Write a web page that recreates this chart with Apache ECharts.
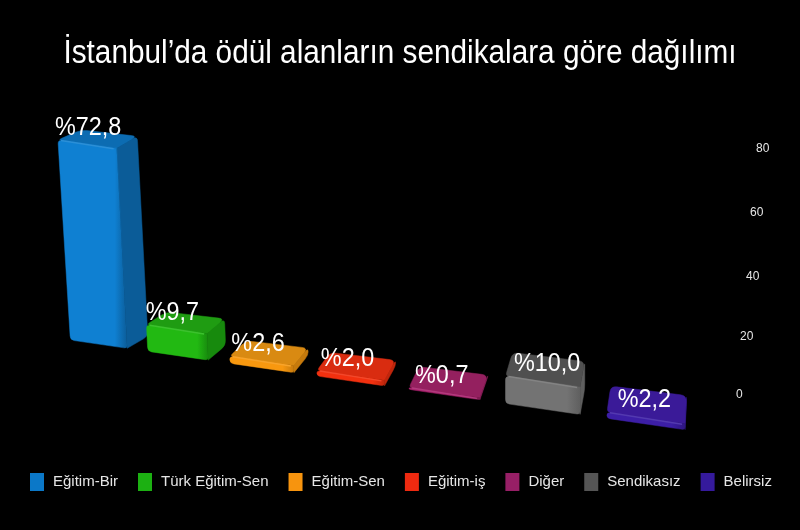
<!DOCTYPE html>
<html>
<head>
<meta charset="utf-8">
<title>İstanbul’da ödül alanların sendikalara göre dağılımı</title>
<script src="https://cdn.jsdelivr.net/npm/echarts@6/dist/echarts.min.js"></script>
<style>
html, body { margin: 0; padding: 0; background: #000; }
#chart { width: 800px; height: 530px; }
</style>
</head>
<body>
<div id="chart"></div>
<script>
// veriler
const titleText = 'İstanbul’da ödül alanların sendikalara göre dağılımı';
const categories = ['Eğitim-Bir', 'Türk Eğitim-Sen', 'Eğitim-Sen', 'Eğitim-iş', 'Diğer', 'Sendikasız', 'Belirsiz'];
const shares = [72.8, 9.7, 2.6, 2.0, 0.7, 10.0, 2.2];
const tickValues = [0, 20, 40, 60, 80];

// renkler: lejant, ön yüz, üst yüz, yan yüz
const legendColors = ['#0b78c8', '#1cb012', '#f7940e', '#ee2a10', '#971f66', '#555555', '#351a9c'];
const frontColors = ['#0f80d2', '#22b912', '#f8980f', '#f2300f', '#a8206c', '#737373', '#3c1ea6'];
const topColors = ['#0c6cb2', '#1f9c12', '#d98a12', '#d92c10', '#94205f', '#505050', '#3a1a98'];
const sideColors = ['#0b5c98', '#178a0d', '#c67a0c', '#c0260c', '#7c1a50', '#5f5f5f', '#2e1580'];

const fontName = '"Liberation Sans", Arial, sans-serif';

// köşeleri yuvarlatılmış çokgen yolu (her köşenin kendi yarıçapı var)
function roundedPath(pts, radii) {
	let d = '';
	pts.forEach(function (p, k) {
		const prev = pts[(k + pts.length - 1) % pts.length];
		const next = pts[(k + 1) % pts.length];
		const l1 = Math.hypot(prev[0] - p[0], prev[1] - p[1]);
		const l2 = Math.hypot(next[0] - p[0], next[1] - p[1]);
		const r1 = Math.min(radii[k], l1 / 2.2) / l1;
		const r2 = Math.min(radii[k], l2 / 2.2) / l2;
		const a = [p[0] + (prev[0] - p[0]) * r1, p[1] + (prev[1] - p[1]) * r1];
		const b = [p[0] + (next[0] - p[0]) * r2, p[1] + (next[1] - p[1]) * r2];
		d += (k === 0 ? 'M' : 'L') + a[0] + ' ' + a[1] + 'Q' + p[0] + ' ' + p[1] + ' ' + b[0] + ' ' + b[1];
	});
	return d + 'Z';
}

// perspektifli çubuk çizimi
function renderBar(params, api) {
	const i = api.value(0);
	const v = api.value(1);
	const origin = api.coord([0, 0]);
	const band = api.size([1, 0])[0];
	const h = api.size([0, v])[1];
	const frontX = function (t) {
		return origin[0] - 10 + band * 0.745 * t + 2.4 * t * t;
	};
	const point = function (t, d, up) {
		const x = frontX(t);
		const lean = Math.max(0, 0.062 - 0.0125 * t);
		return [
			x + d * (23 - 3.2 * t) - up * lean,
			origin[1] - 54 + 0.146 * (x - frontX(0)) + d * (-10 - 2.7 * t) - up
		];
	};
	const w = i + 0.74;
	const fl = point(i, 0, 0), fr = point(w, 0, 0), br = point(w, 1, 0);
	const tfl = point(i, 0, h), tfr = point(w, 0, h), tbr = point(w, 1, h), tbl = point(i, 1, h);

	const face = function (pts, radii, fill) {
		return {
			type: 'path',
			shape: {
				pathData: roundedPath(pts, radii),
				layout: 'none'
			},
			style: { fill: fill, stroke: fill, lineWidth: 0.5 }
		};
	};
	const frontFill = new echarts.graphic.LinearGradient(0, 0, 1, 0, [
		{ offset: 0, color: frontColors[i] },
		{ offset: 0.82, color: frontColors[i] },
		{ offset: 1, color: sideColors[i] }
	]);
	const edge = echarts.color.lift(frontColors[i], 0.12);
	return {
		type: 'group',
		children: [
			face([fr, br, tbr, tfr], [0, 5, 5, 0], sideColors[i]),
			face([tfl, tfr, tbr, tbl], [4, 0, 6, 6], topColors[i]),
			face([fl, fr, tfr, tfl], [4, 3, 0, 4], frontFill),
			{
				type: 'polyline',
				shape: { points: [[tfl[0] + 3, tfl[1] + 0.5], [tfr[0] - 3, tfr[1] + 0.5]] },
				style: { stroke: edge, lineWidth: 1.5, fill: null }
			},
			{
				type: 'text',
				x: tfl[0] - 3 + 2.3 * i,
				y: tfl[1] - 12,
				scaleX: 0.9,
				z2: 10,
				style: {
					text: '%' + v.toFixed(1).replace('.', ','),
					fontFamily: fontName,
					fontSize: 26,
					fill: '#fff',
					align: 'left',
					verticalAlign: 'middle'
				}
			}
		]
	};
}

const seriesList = categories.map(function (name, i) {
	return {
		name: name,
		type: 'custom',
		xAxisIndex: 0,
		yAxisIndex: 1,
		clip: false,
		itemStyle: { color: legendColors[i] },
		encode: { x: 0, y: 1 },
		data: [[i, shares[i]]],
		renderItem: renderBar
	};
});

const chart = echarts.init(document.getElementById('chart'));
chart.setOption({
	backgroundColor: '#000',
	animation: false,
	graphic: [{
		type: 'text',
		x: 400,
		y: 54,
		scaleX: 0.875,
		style: {
			text: titleText,
			fontFamily: fontName,
			fontSize: 34,
			fill: '#fff',
			align: 'center',
			verticalAlign: 'middle'
		}
	}],
	legend: {
		left: 25,
		top: 468,
		icon: 'rect',
		itemWidth: 14,
		itemHeight: 18,
		itemGap: 20,
		textStyle: { color: '#e6e6e6', fontFamily: fontName, fontSize: 15, padding: [0, 0, 0, 4] },
		data: categories
	},
	grid: { left: 30, right: 65, top: 148, bottom: 136 },
	xAxis: { type: 'category', data: categories, show: false },
	yAxis: [
		{
			type: 'value',
			position: 'right',
			min: 0,
			max: 80,
			interval: 20,
			splitLine: { show: false },
			axisLine: { show: false },
			axisTick: { show: false },
			axisLabel: {
				margin: 0,
				color: '#e6e6e6',
				fontFamily: fontName,
				fontSize: 12,
				align: 'left',
				formatter: function (v) {
					return '{t' + tickValues.indexOf(v) + '|' + v + '}';
				},
				rich: {
					t0: { padding: [2, 0, 0, 1] },
					t1: { padding: [9, 0, 0, 5] },
					t2: { padding: [12, 0, 0, 11] },
					t3: { padding: [7, 0, 0, 15] },
					t4: { padding: [2, 0, 0, 21] }
				}
			}
		},
		{ type: 'value', min: 0, max: 89.5, show: false }
	],
	series: seriesList
});
window.onresize = chart.resize;
</script>
</body>
</html>
